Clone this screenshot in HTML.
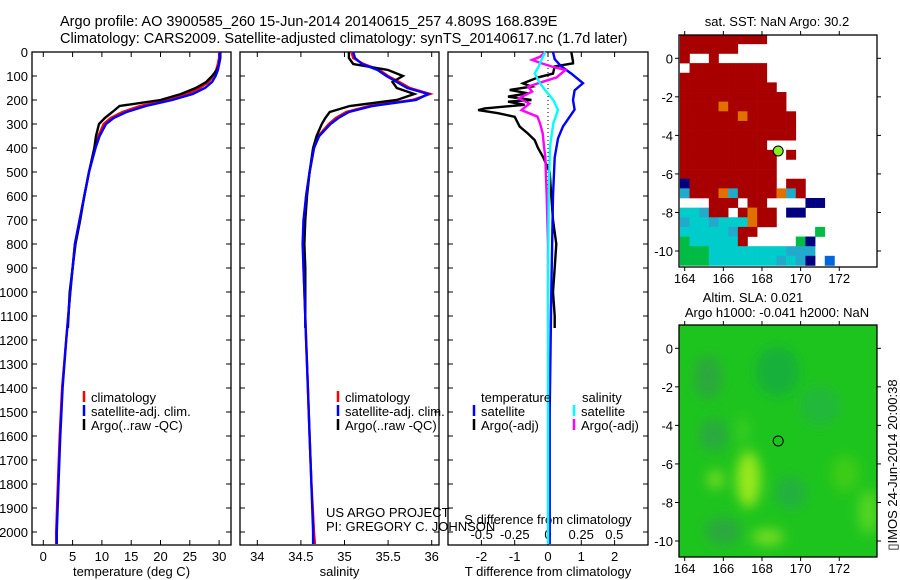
<!DOCTYPE html>
<html><head><meta charset="utf-8"><style>
html,body{margin:0;padding:0;background:#fff}
svg{display:block;font-family:"Liberation Sans",sans-serif}
text{fill:#000}
</style></head><body>
<svg id="fig" width="900" height="580" viewBox="0 0 900 580" xmlns="http://www.w3.org/2000/svg">
<text x="60" y="26" font-size="14.5">Argo profile: AO 3900585_260 15-Jun-2014 20140615_257 4.809S 168.839E</text>
<text x="60" y="43" font-size="14.5">Climatology: CARS2009. Satellite-adjusted climatology: synTS_20140617.nc (1.7d later)</text>
<text x="777" y="26" font-size="13" text-anchor="middle">sat. SST: NaN Argo: 30.2</text>
<text x="753" y="302" font-size="13" text-anchor="middle">Altim. SLA: 0.021</text>
<text x="777" y="317" font-size="13" text-anchor="middle">Argo h1000: -0.041 h2000: NaN</text>
<text transform="translate(897,465) rotate(-90)" font-size="13" text-anchor="middle">▯IMOS 24-Jun-2014 20:00:38</text>
</svg>
<script>
// ---- data ----
const depthTicks=[0,100,200,300,400,500,600,700,800,900,1000,1100,1200,1300,1400,1500,1600,1700,1800,1900,2000];
const tempTicks=[0,5,10,15,20,25,30];
const salTicks=[34,34.5,35,35.5,36];
const salTickLabels=["34","34.5","35","35.5","36"];
const dTTicks=[-2,-1,0,1,2];
const dSTicks=[-0.5,-0.25,0,0.25,0.5];
const dSTickLabels=["-0.5","-0.25","0","0.25","0.5"];
const depthsClim=[0,25,50,75,100,125,150,175,200,225,250,275,300,350,400,500,600,700,800,900,1000,1200,1400,1600,1800,2000,2050];
const tempClim=[30,30,29.8,29.5,29,28.2,26.7,24.5,21,16.5,13.5,11.5,10.3,9.4,8.8,7.8,7,6.2,5.4,5,4.6,3.9,3.2,2.8,2.5,2.2,2.2];
const tempSat=[30.1,30.1,30,29.8,29.4,28.8,27.6,25.5,22,17.5,14.2,12,10.7,9.6,8.9,7.8,7,6.2,5.4,5,4.6,3.9,3.3,2.9,2.6,2.3,2.3];
const depthsArgo=[0,25,50,75,100,125,150,175,200,225,250,275,300,350,400,500,600,700,800,900,1000,1150];
const tempArgo=[30.2,30.2,30,29.6,28.8,27.8,26,23.5,20,13,11.8,10.5,9.5,9,8.7,7.8,7,6.3,5.5,5,4.5,4.2];
const salClim=[35.08,35.1,35.22,35.4,35.5,35.63,35.75,35.98,35.78,35.28,35.02,34.9,34.82,34.7,34.65,34.6,34.56,34.54,34.53,34.53,34.54,34.56,34.58,34.6,34.62,34.65,34.66];
const salSat=[35.1,35.12,35.2,35.38,35.48,35.6,35.72,35.96,35.82,35.32,35.05,34.93,34.84,34.71,34.65,34.6,34.56,34.53,34.52,34.53,34.54,34.56,34.58,34.6,34.62,34.64,34.64];
const salArgo=[35.05,35.05,35.1,35.5,35.67,35.55,35.6,35.8,35.6,35.06,34.83,34.78,34.74,34.68,34.64,34.6,34.57,34.55,34.54,34.55,34.55,34.55];
const depthsDTSat=[0,30,60,90,130,160,200,240,280,310,360,440,600,1000,1500,2000,2050];
const dTSat=[0.15,0.2,0.4,0.7,1.05,0.8,0.75,0.8,0.6,0.45,0.3,0.2,0.15,0.1,0.05,0.05,0.05];
const depthsDTArgo=[0,40,47,60,90,106,131,144,158,172,186,200,207,220,235,242,255,270,311,340,367,400,437,500,600,700,800,900,1000,1100,1150];
const dTArgo=[0.7,0.75,0.75,0.2,0.15,-0.3,-0.75,-0.5,-1.15,-0.6,-1.2,-0.5,-1.2,-0.7,-1.9,-2.1,-1.5,-1.0,-0.85,-0.6,-0.4,-0.3,-0.15,0.05,0.1,0.15,0.25,0.2,0.15,0.2,0.2];
const depthsDSArgo=[0,20,33,47,61,75,89,106,124,144,165,193,215,242,269,297,339,394,436,600,800,1000,1150];
const dSArgo=[-0.02,-0.06,-0.12,-0.05,0.03,0.13,0.1,0.065,-0.04,-0.15,-0.12,-0.22,-0.14,-0.2,-0.08,-0.06,-0.04,-0.03,-0.02,-0.01,0,0,0];
const depthsDSSat=[0,33,61,89,131,160,200,242,297,394,600,1000,2000,2050];
const dSSat=[-0.02,-0.05,-0.07,-0.1,-0.06,-0.02,0.04,0.075,0.04,0.015,0.005,0,0,0];
const lonTicks=[164,166,168,170,172];
const latTicks=[0,-2,-4,-6,-8,-10];
const argoLon=168.839, argoLat=-4.809;
// SST grid: 0.5 deg cells from lon 163.75, lat 1.25 downwards. R=red N=navy C=cyan G=green B=blue O=orange M=mixed
const sstGrid=[
"RRRRRRRRR...........",
"RRRRRR..............",
"R..R................",
".RRRRRRRR...........",
"RRRRRRRRR...........",
"RRRRRRRRRR..........",
"RRRRRRRRRRR.........",
"RRRRORRRRRR.........",
"RRRRRRORRRRR........",
"RRRRRRRRRRRR........",
"RRRRRRRRRRRR........",
"RRRRRRRRR...........",
"RRRRRRRRRR.R........",
"RRRRRRRRRR..........",
"RRRRRRRRRR..........",
"NRRRRRRRRR.RR.......",
"MRRROMRRRROMR.......",
"...RRR.RR....NN.....",
"CCMRR.RORR.NN.......",
"MCCMCCCORR..........",
"CCCCCMRR......G.....",
"GCCCCCR.....GN......",
"GGGCCCCCCCCMMM......",
"GGGCCCCCCCMCMN.B...."];
const sstColors={R:"#a80000",N:"#000080",C:"#00cccc",G:"#00bb44",B:"#0066dd",O:"#e07000",M:"#22aacc"};

const NS="http://www.w3.org/2000/svg";
const svg=document.getElementById('fig');
function el(tag,attrs,parent){const e=document.createElementNS(NS,tag);for(const k in attrs)e.setAttribute(k,attrs[k]);(parent||svg).appendChild(e);return e;}
function txt(x,y,s,attrs,parent){const t=el('text',Object.assign({x:x,y:y,'font-size':13},attrs||{}),parent);t.textContent=s;return t;}

// depth axis
const Y0=52, KY=0.240;
function yD(d){return Y0+d*KY;}
const PT=52,PB=545;

function panel(name,x0,x1,xf,ticks,labels,title,extraTicksTop){
  const g=el('g',{});
  
  
  const r=el('rect',{x:x0,y:PT,width:x1-x0,height:PB-PT,fill:'none',stroke:'#000','stroke-width':1.3},g);
  
  
  ticks.forEach((v,i)=>{
    const x=xf(v);
    el('line',{x1:x,x2:x,y1:PB,y2:PB-5,stroke:'#000'},g);
    el('line',{x1:x,x2:x,y1:PT,y2:PT+5,stroke:'#000'},g);
    const t=txt(x,561,labels[i],{'text-anchor':'middle'},g);
    
    
  });
  depthTicks.forEach(d=>{
    el('line',{x1:x0,x2:x0+5,y1:yD(d),y2:yD(d),stroke:'#000'},g);
    el('line',{x1:x1,x2:x1-5,y1:yD(d),y2:yD(d),stroke:'#000'},g);
  });
  const tt=txt((x0+x1)/2,576,title,{'text-anchor':'middle'},g);
  
  
  return g;
}
function line(g,depths,vals,xf,color,name,w){
  const pts=depths.map((d,i)=>xf(vals[i]).toFixed(1)+','+yD(d).toFixed(1)).join(' ');
  const p=el('polyline',{points:pts,fill:'none',stroke:color,'stroke-width':w||2.4,'stroke-linejoin':'miter'},g);
  
  
}
function legend(g,x,y,color,label,name){
  el('line',{x1:x,x2:x,y1:y-11,y2:y,stroke:color,'stroke-width':2.5},g);
  const t=txt(x+7,y,label,{},g);
  
  
}

// y tick labels
depthTicks.forEach(d=>{
  const t=txt(28,yD(d)+5,String(d),{'text-anchor':'end'});
  
  
});

// temperature panel
const xT=v=>43.3+v*5.86;
const g1=panel('temperature-panel',32,231,xT,tempTicks,tempTicks.map(String),'temperature (deg C)');
line(g1,depthsClim,tempClim,xT,'#ff0000','temp-climatology-line');
line(g1,depthsArgo,tempArgo,xT,'#000000','temp-argo-line');
line(g1,depthsClim,tempSat,xT,'#0000ff','temp-satellite-line');
legend(g1,84,402,'#ff0000','climatology','legend-climatology');
legend(g1,84,416,'#0000ff','satellite-adj. clim.','legend-satellite');
legend(g1,84,430,'#000000','Argo(..raw -QC)','legend-argo');

// salinity panel
const xS=v=>257.3+(v-34)*87.2;
const g2=panel('salinity-panel',240,439,xS,salTicks,salTickLabels,'salinity');
line(g2,depthsClim,salClim,xS,'#ff0000','sal-climatology-line');
line(g2,depthsArgo,salArgo,xS,'#000000','sal-argo-line');
line(g2,depthsClim,salSat,xS,'#0000ff','sal-satellite-line');
legend(g2,338,402,'#ff0000','climatology','legend-climatology-2');
legend(g2,338,416,'#0000ff','satellite-adj. clim.','legend-satellite-2');
legend(g2,338,430,'#000000','Argo(..raw -QC)','legend-argo-2');
const pr1=txt(326,517,'US ARGO PROJECT',{},g2);
const pr2=txt(326,531,'PI: GREGORY C. JOHNSON',{},g2);

// difference panel
const xDT=v=>548+v*33.3;
const xDS=v=>548+v*132.7;
const g3=panel('difference-panel',448,648,xDT,dTTicks,dTTicks.map(String),'T difference from climatology');
for(let yy=56;yy<200;yy+=4){el('rect',{x:547.5,y:yy,width:1,height:1,fill:'#000'},g3);}
dSTicks.forEach((v,i)=>{const t=txt(xDS(v),539,dSTickLabels[i],{'text-anchor':'middle'},g3);});
const st=txt(548,524,'S difference from climatology',{'text-anchor':'middle'},g3);
line(g3,depthsDTArgo,dTArgo,xDT,'#000000','dt-argo-line');
line(g3,depthsDTSat,dTSat,xDT,'#0000ff','dt-satellite-line');
line(g3,depthsDSArgo,dSArgo,xDS,'#ff00ff','ds-argo-line');
line(g3,depthsDSSat,dSSat,xDS,'#00ffff','ds-satellite-line');
const lt=txt(481,402,'temperature',{},g3);
const ls=txt(582,402,'salinity',{},g3);
legend(g3,474,416,'#0000ff','satellite','legend-t-satellite');
legend(g3,474,430,'#000000','Argo(-adj)','legend-t-argo');
legend(g3,574,416,'#00ffff','satellite','legend-s-satellite');
legend(g3,574,430,'#ff00ff','Argo(-adj)','legend-s-argo');

// maps
const MX0=679,MX1=877;
const lonX=l=>684.7+(l-164)*19.32;
function mapAxes(name,top,bottom,lat0y){
  const latY=l=>lat0y-l*19.27;
  const g=el('g',{});
  
  
  return {g,latY,top,bottom};
}
function mapFrame(m,name){
  const r=el('rect',{x:MX0,y:m.top,width:MX1-MX0,height:m.bottom-m.top,fill:'none',stroke:'#000','stroke-width':1.3},m.g);
  
  
  lonTicks.forEach(l=>{const x=lonX(l);
    el('line',{x1:x,x2:x,y1:m.top,y2:m.top-4,stroke:'#000'},m.g);
    el('line',{x1:x,x2:x,y1:m.bottom,y2:m.bottom+4,stroke:'#000'},m.g);
    const t=txt(x,m.bottom+16,String(l),{'text-anchor':'middle'},m.g);});
  latTicks.forEach(l=>{const y=m.latY(l);
    el('line',{x1:MX0,x2:MX0-4,y1:y,y2:y,stroke:'#000'},m.g);
    el('line',{x1:MX1,x2:MX1+4,y1:y,y2:y,stroke:'#000'},m.g);
    const t=txt(673,y+5,String(l),{'text-anchor':'end'},m.g);});
}
// SST map
const m1=mapAxes('sst-map',35,267,58.3);
sstGrid.forEach((row,r)=>{[...row].forEach((c,ci)=>{
  if(c==='.')return;
  const lonL=163.75+ci*0.5, latT=1.25-r*0.5;
  const x=Math.max(MX0,lonX(lonL)), x2=Math.min(MX1,lonX(lonL+0.5));
  const y=Math.max(m1.top,m1.latY(latT)), y2=Math.min(m1.bottom,m1.latY(latT-0.5));
  const rc=el('rect',{x:x,y:y,width:x2-x+0.3,height:y2-y+0.3,fill:sstColors[c]},m1.g);
  
  
});});
const d1=el('circle',{cx:lonX(argoLon),cy:m1.latY(argoLat),r:5,fill:'#88ee22',stroke:'#000','stroke-width':1},m1.g);

mapFrame(m1,'sst-map');
// SLA map
const m2=mapAxes('sla-map',325,557,348.3);
const defs=el('defs',{});
const f=el('filter',{id:'blur',x:'-50%',y:'-50%',width:'200%',height:'200%'},defs);
el('feGaussianBlur',{stdDeviation:6},f);
const cp=el('clipPath',{id:'m2clip'},defs);
el('rect',{x:MX0,y:325,width:MX1-MX0,height:232},cp);
const gc=el('g',{'clip-path':'url(#m2clip)'},m2.g);
el('rect',{x:MX0,y:325,width:MX1-MX0,height:232,fill:'#1ec41e'},gc);
const gb=el('g',{filter:'url(#blur)'},gc);
const blobs=[[165.2,-1.5,14,22,'#2aa83c'],[168.8,-1.2,22,25,'#18b03a'],[171,-3,20,20,'#22b83a'],[165.5,-4.5,14,16,'#2aa840'],[166,-9.5,18,14,'#2aa840'],[169.5,-7.5,16,16,'#22b040'],
 [167.3,-6.8,12,28,'#99e81a'],[165.6,-6.8,8,9,'#77dd22'],[168.3,-9.8,16,8,'#77dd22'],[173.5,-8.5,10,22,'#55d622'],[172.3,-6.5,14,18,'#3ccc18'],[167.0,-4.3,5,15,'#3cd020']];
blobs.forEach(b=>{const e=el('ellipse',{cx:lonX(b[0]),cy:m2.latY(b[1]),rx:b[2],ry:b[3],fill:b[4]},gb);
  });
const d2=el('circle',{cx:lonX(argoLon),cy:m2.latY(argoLat),r:5,fill:'none',stroke:'#000','stroke-width':1},m2.g);

mapFrame(m2,'sla-map');
</script>
</body></html>
